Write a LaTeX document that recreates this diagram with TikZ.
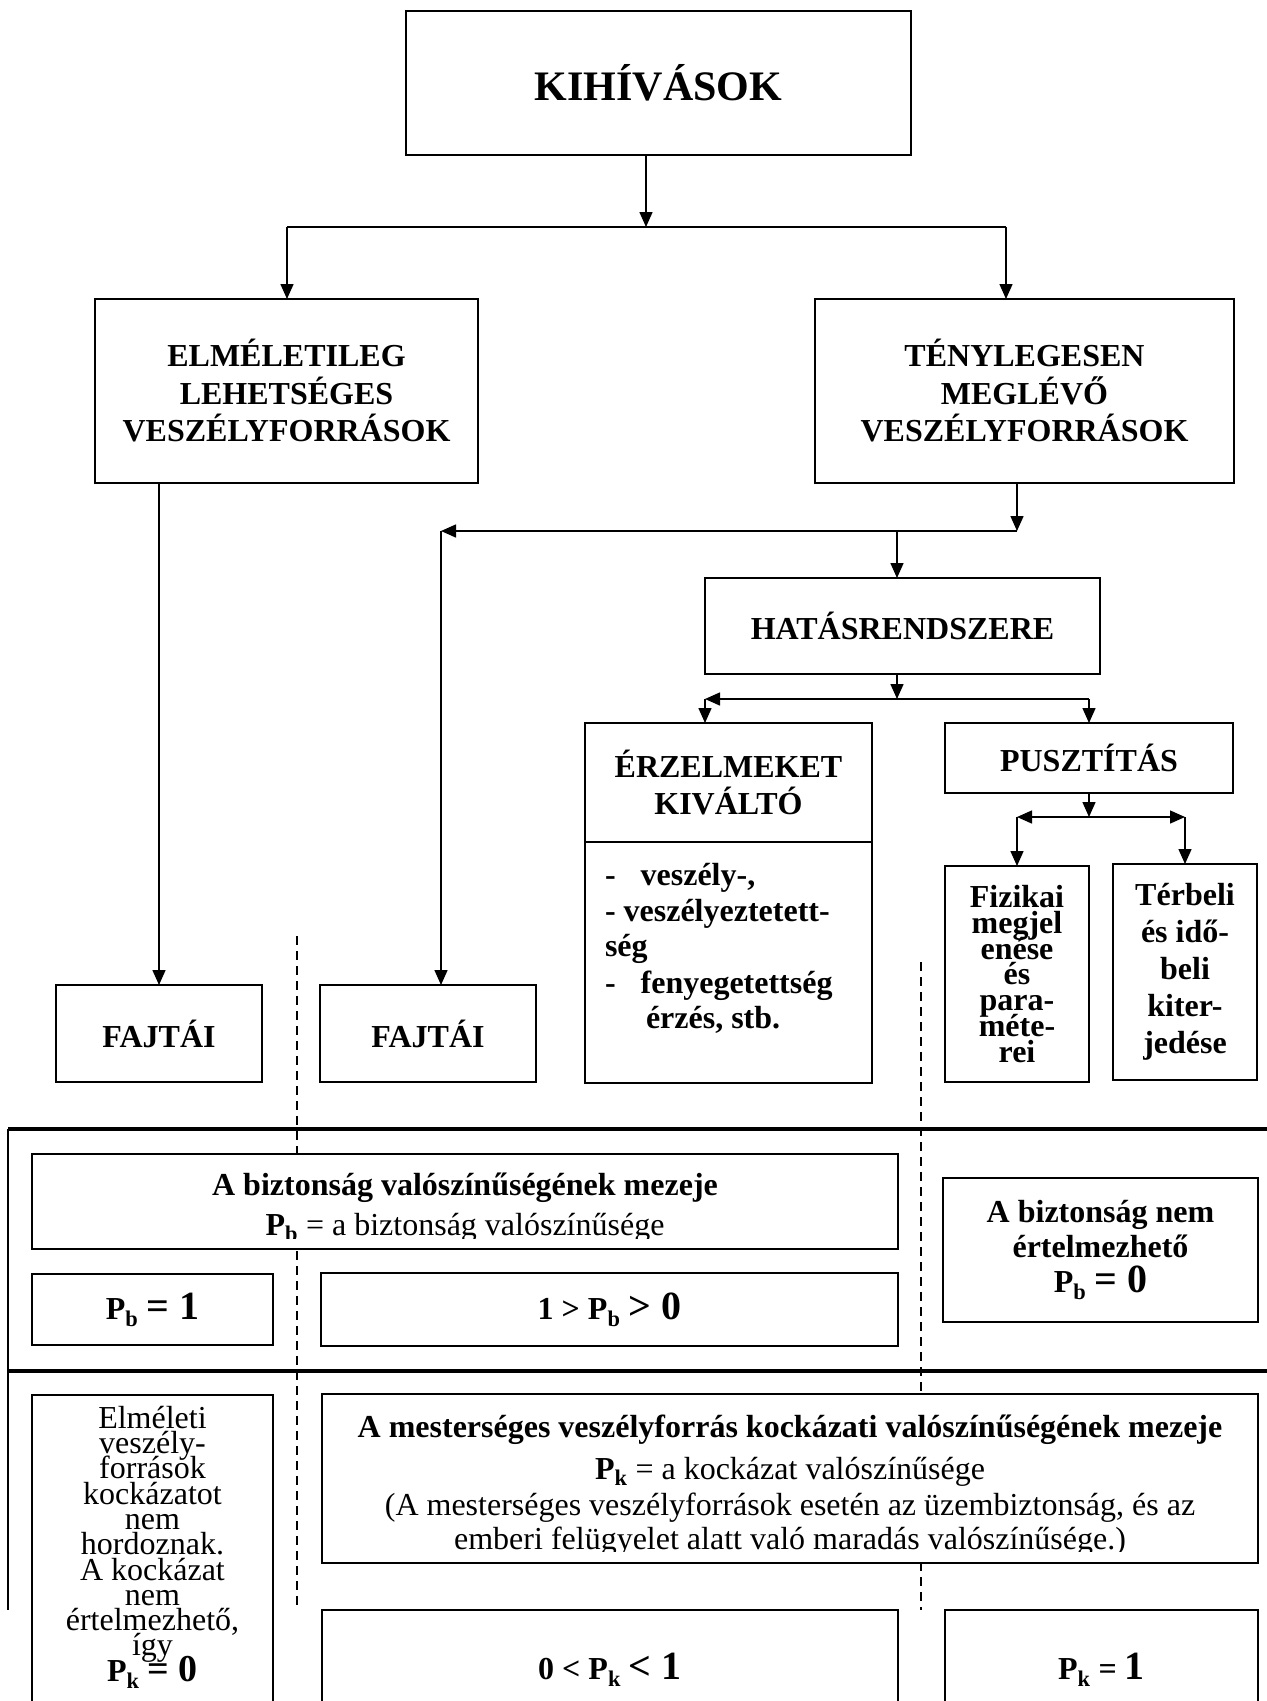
\documentclass[tikz,border=0pt]{standalone}
\usepackage{fontspec}
\setmainfont{Liberation Serif}
\usetikzlibrary{arrows.meta}
\newcommand\fsz{\fontsize{32}{37.5}\selectfont\lineskiplimit=-200pt\lineskip=0pt}
\newcommand\fszF{\fontsize{32}{25.8}\selectfont\lineskiplimit=-200pt\lineskip=0pt}
\newcommand\fszT{\fontsize{32}{37}\selectfont\lineskiplimit=-200pt\lineskip=0pt}
\newcommand\fszP{\fontsize{32}{35}\selectfont\lineskiplimit=-200pt\lineskip=0pt}
\newcommand\fszE{\fontsize{32}{25.3}\selectfont\lineskiplimit=-200pt\lineskip=0pt}
\newcommand\bigsz{\fontsize{40}{37.5}\selectfont}
\newcommand\bigszE{\fontsize{38}{25.3}\selectfont}
\begin{document}
\lineskiplimit=-200pt
\begin{tikzpicture}[x=1pt,y=-1pt,
  box/.style={draw, line width=1.8pt, fill=white, inner sep=0pt, outer sep=0pt, align=center, font=\bfseries\fsz},
  txt/.style={inner sep=0pt, outer sep=0pt, font=\fsz},
  arr/.style={line width=1.5pt, -{Triangle[length=15pt,width=13pt]}},
  ln/.style={line width=1.5pt},
  hrule/.style={line width=4.5pt},
  vrule/.style={line width=2pt},
  dsh/.style={line width=1.4pt, dash pattern=on 9pt off 6pt}]
\useasboundingbox (0,0) rectangle (1267,1701);
\clip (0,0) rectangle (1267,1701);
\fill[white] (0,0) rectangle (1267,1701);

% dashed separators (behind the boxes)
\coordinate (dA1) at (297,936);
\coordinate (dA2) at (297,1610);
\coordinate (dB1) at (921,962);
\coordinate (dB2) at (921,1610);
\draw[dsh] (dA1) -- (dA2);
\draw[dsh] (dB1) -- (dB2);

% horizontal rules
\coordinate (r1a) at (8,1129);
\coordinate (r1b) at (1267,1129);
\coordinate (r2a) at (8,1371);
\coordinate (r2b) at (1267,1371);
\coordinate (vl) at (8,1610);
\draw[hrule] (r1a) -- (r1b);
\draw[hrule] (r2a) -- (r2b);
\draw[vrule] (r1a) -- (vl);

% upper part
\node[box, minimum width=505pt, minimum height=144pt] (kih) at (658.5,83) {\fontsize{42}{42}\selectfont KIHÍVÁSOK};
\node[box, minimum width=383pt, minimum height=184pt] (elm) at (286.5,391) {ELMÉLETILEG\\LEHETSÉGES\\VESZÉLYFORRÁSOK};
\node[box, minimum width=419pt, minimum height=184pt] (ten) at (1024.5,391) {TÉNYLEGESEN\\MEGLÉVŐ\\VESZÉLYFORRÁSOK};
\node[box, minimum width=206pt, minimum height=97pt] (fajt1) at (159,1033.5) {FAJTÁI};
\node[box, minimum width=216pt, minimum height=97pt] (fajt2) at (428,1033.5) {FAJTÁI};
\node[box, minimum width=395pt, minimum height=96pt] (hat) at (902.5,626) {HATÁSRENDSZERE};
\node[box, minimum width=287pt, minimum height=119pt] (erzT) at (728.5,782.5) {ÉRZELMEKET\\KIVÁLTÓ};
\node[box, minimum width=287pt, minimum height=241pt] (erzB) at (728.5,962.5) {};
\node[box, minimum width=288pt, minimum height=70pt] (pusz) at (1089,758) {PUSZTÍTÁS};
\node[box, minimum width=144pt, minimum height=216pt, font=\bfseries\fszF] (fiz) at (1017,974) {Fizikai\\megjel\\enése\\és\\para-\\méte-\\rei};
\node[box, minimum width=144pt, minimum height=216pt, font=\bfseries\fszT] (ter) at (1185,972) {Térbeli\\és idő-\\beli\\kiter-\\jedése};

% bullet list
\node[txt, font=\bfseries\fsz, anchor=base west] (b1) at (605,885) {-\hspace{25pt}veszély-,};
\node[txt, font=\bfseries\fsz, anchor=base west] (b2) at (605,921) {- veszélyeztetett-};
\node[txt, font=\bfseries\fsz, anchor=base west] (b3) at (605,956) {ség};
\node[txt, font=\bfseries\fsz, anchor=base west] (b4) at (605,993) {-\hspace{25pt}fenyegetettség};
\node[txt, font=\bfseries\fsz, anchor=base west] (b5) at (646,1028) {érzés, stb.};

% connectors upper part
\coordinate (j1) at (646,227);
\coordinate (j1l) at (287,227);
\coordinate (j1r) at (1006,227);
\draw[arr] (kih.south -| j1) -- (j1);
\draw[ln] (j1l) -- (j1r);
\draw[arr] (j1l) -- (elm.north -| j1l);
\draw[arr] (j1r) -- (ten.north -| j1r);
\draw[arr] (elm.south -| fajt1.north) -- (fajt1.north);
\coordinate (j2) at (1017,531);
\coordinate (j2l) at (441,531);
\coordinate (j2m) at (897,531);
\draw[arr] (ten.south -| j2) -- (j2);
\draw[arr] (j2) -- (j2l);
\draw[arr] (j2l) -- (fajt2.north -| j2l);
\draw[arr] (j2m) -- (hat.north -| j2m);
\coordinate (j3) at (897,699);
\coordinate (j3l) at (705,699);
\coordinate (j3r) at (1089,699);
\draw[arr] (hat.south -| j3) -- (j3);
\draw[arr] (j3r) -- (j3l);
\draw[arr] (j3l) -- (erzT.north -| j3l);
\draw[arr] (j3r) -- (pusz.north -| j3r);
\coordinate (j4) at (1089,817);
\coordinate (j4l) at (1017,817);
\coordinate (j4r) at (1185,817);
\draw[arr] (pusz.south) -- (j4);
\draw[arr] (j4) -- (j4l);
\draw[arr] (j4) -- (j4r);
\draw[arr] (j4l) -- (fiz.north);
\draw[arr] (j4r) -- (ter.north);

% middle band
\node[box, minimum width=866pt, minimum height=95pt] (biz) at (465,1201.5) {};
\begin{scope}
\clip (32,1154) rectangle (898,1238);
\node[txt, font=\bfseries\fsz, anchor=base] (bz1) at (465,1195) {A biztonság valószínűségének mezeje};
\node[txt, anchor=base] (bz2) at (465,1235) {\textbf{P\textsubscript{b}} = a biztonság valószínűsége};
\end{scope}
\node[box, minimum width=241pt, minimum height=71pt] (pb1) at (152.5,1309.5) {P\textsubscript{b} {\bigsz= 1}};
\node[box, minimum width=577pt, minimum height=73pt] (pbm) at (609.5,1309.5) {1 > P\textsubscript{b} {\bigsz> 0}};
\node[box, minimum width=315pt, minimum height=144pt, font=\bfseries\fszP] (pb0) at (1100.5,1250) {A biztonság nem\\értelmezhető\\P\textsubscript{b} {\bigsz= 0}};

% lower band
\node[box, minimum width=241pt, minimum height=330pt] (elti) at (152.5,1560) {};
\node[txt, align=center, anchor=north, font=\fszE] (eltiT) at (152.5,1406) {Elméleti\\veszély-\\források\\kockázatot\\nem\\hordoznak.\\A kockázat\\nem\\értelmezhető,\\így\\\textbf{P\textsubscript{k} {\bigszE= 0}}};
\node[box, minimum width=936pt, minimum height=169pt] (mest) at (790,1478.5) {};
\begin{scope}
\clip (322,1394) rectangle (1258,1551);
\node[txt, font=\bfseries\fsz, anchor=base] (m1) at (790,1437) {A mesterséges veszélyforrás kockázati valószínűségének mezeje};
\node[txt, anchor=base] (m2) at (790,1479) {\textbf{P\textsubscript{k}} = a kockázat valószínűsége};
\node[txt, anchor=base] (m3) at (790,1515) {(A mesterséges veszélyforrások esetén az üzembiztonság, és az};
\node[txt, anchor=base] (m4) at (790,1549) {emberi felügyelet alatt való maradás valószínűsége.)};
\end{scope}
\node[box, minimum width=576pt, minimum height=120pt] (pkm) at (610,1670) {0 < P\textsubscript{k} {\bigsz< 1}};
\node[box, minimum width=313pt, minimum height=120pt] (pk1) at (1101.5,1670) {P\textsubscript{k} = {\bigsz 1}};
\end{tikzpicture}
\end{document}
